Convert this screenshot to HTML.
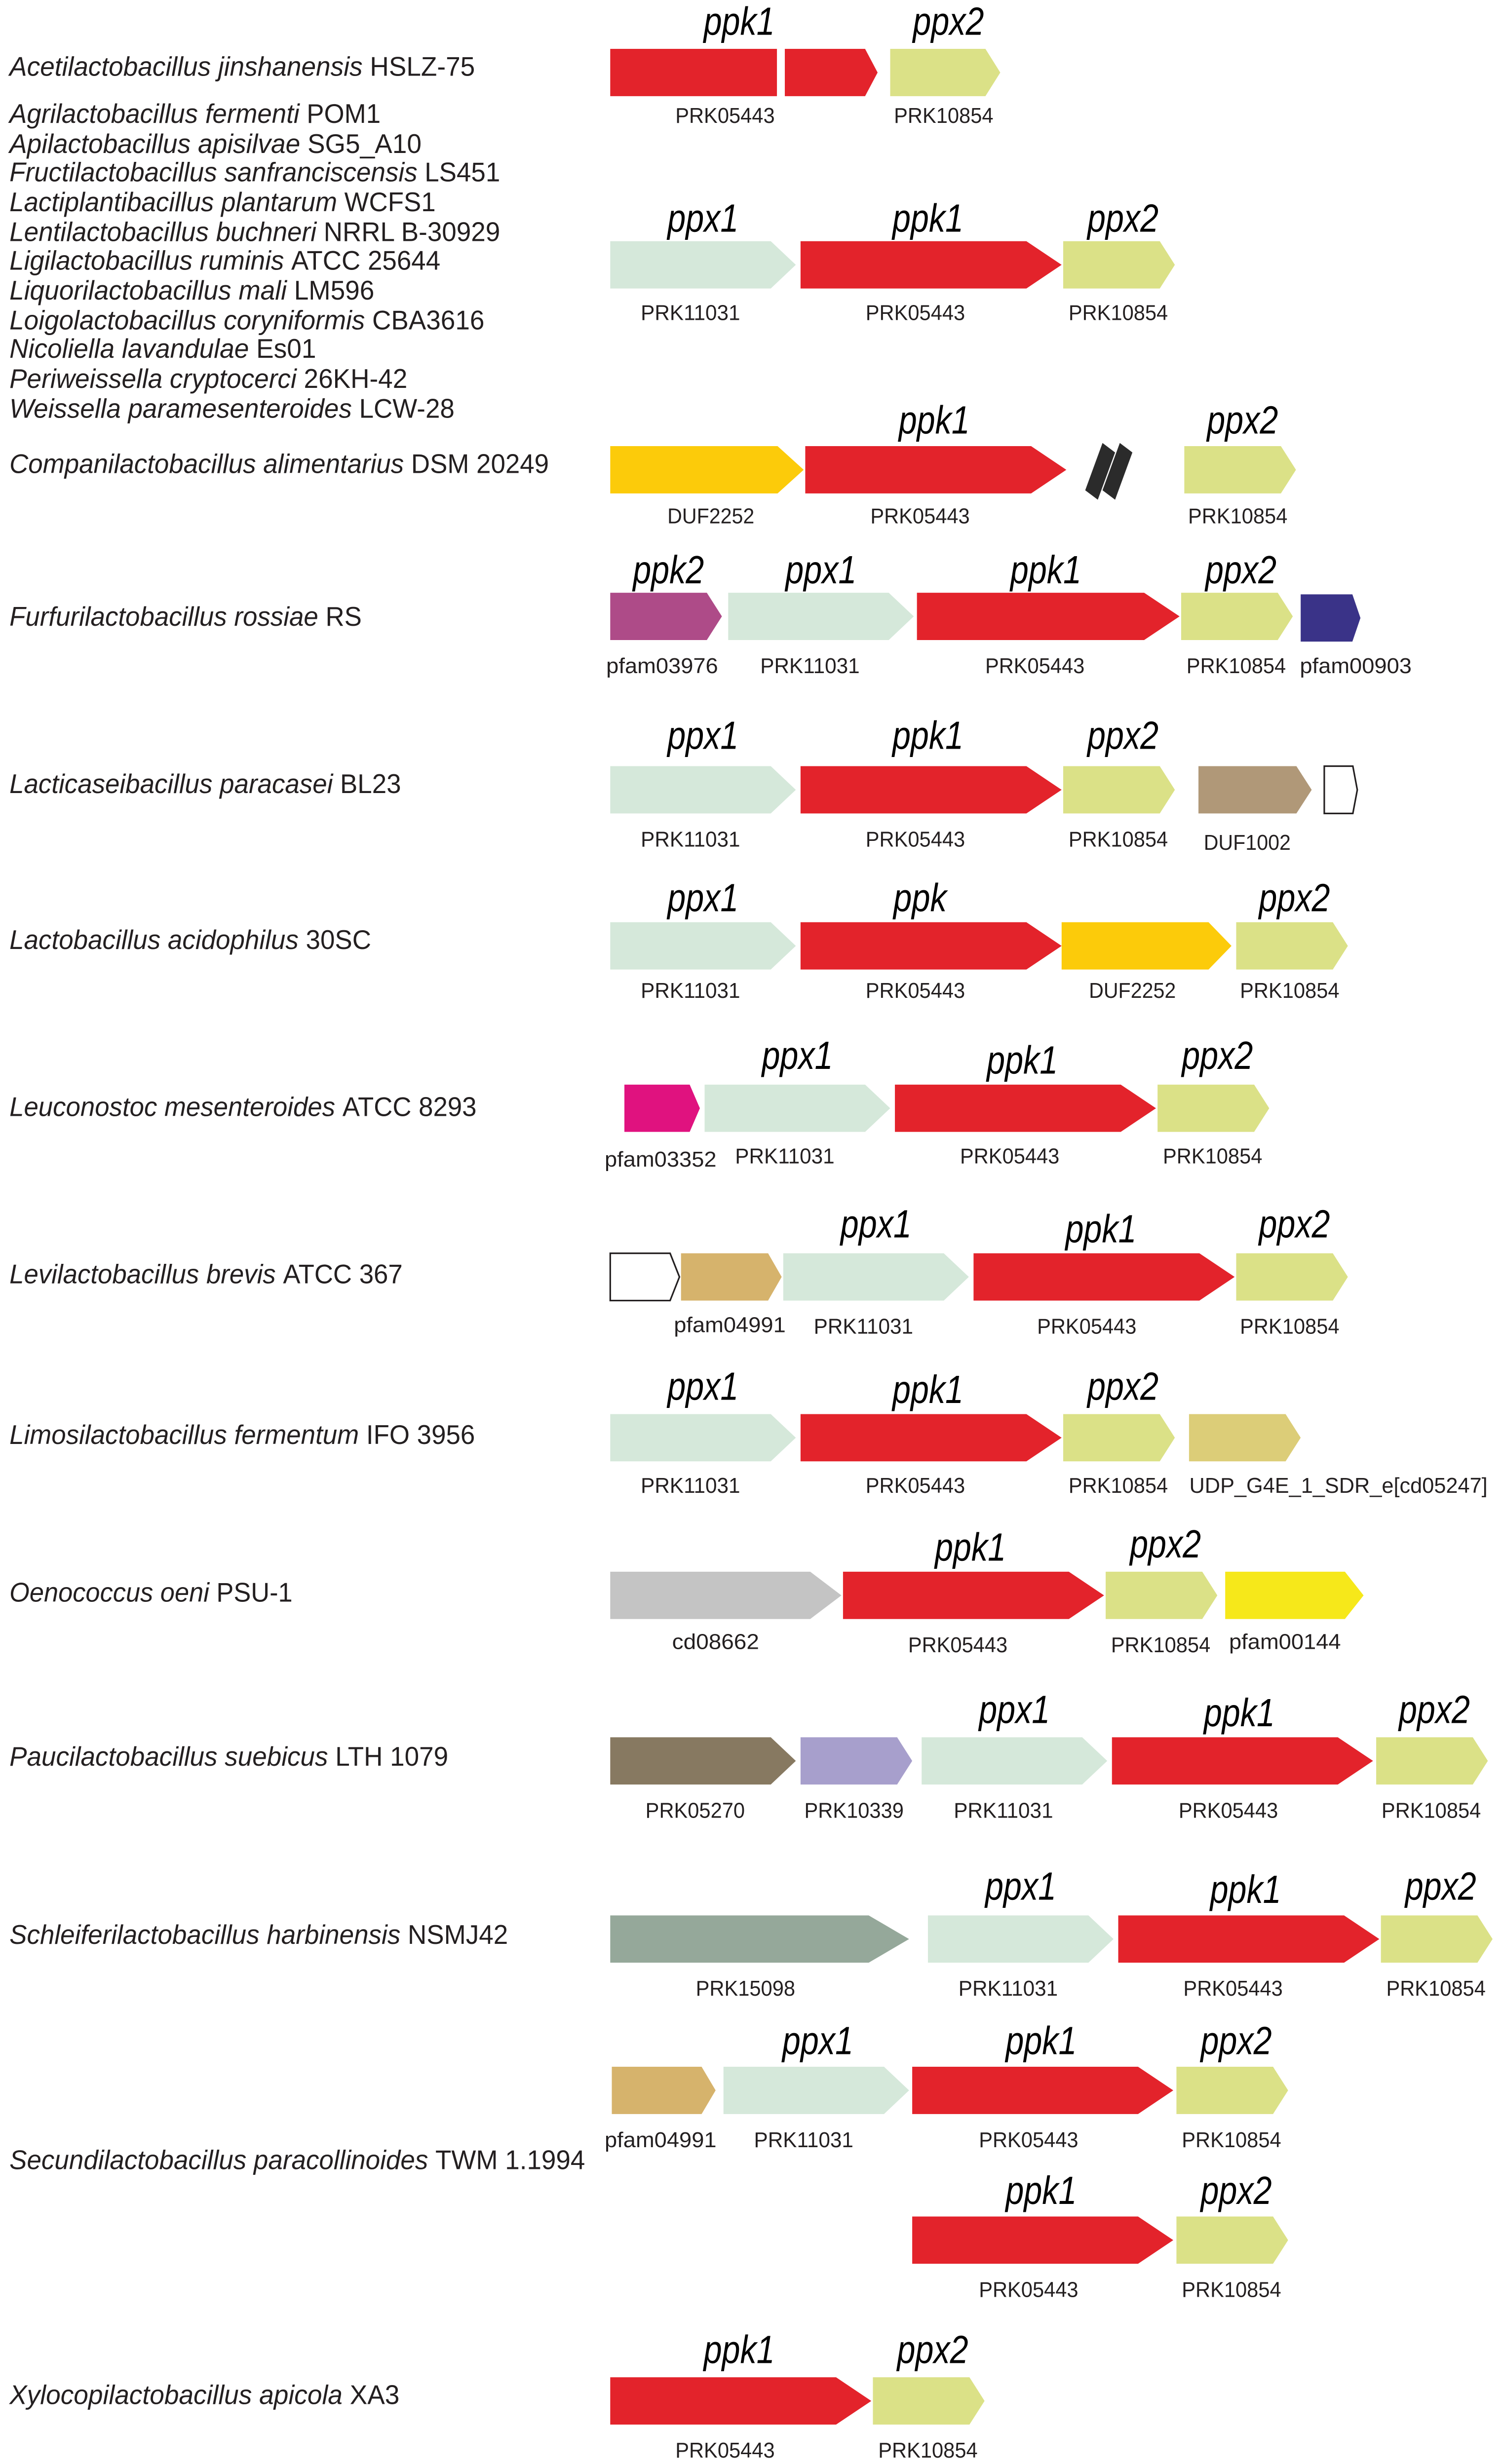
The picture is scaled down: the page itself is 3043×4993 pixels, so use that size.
<!DOCTYPE html>
<html><head><meta charset="utf-8"><style>
html,body{margin:0;padding:0;background:#fff}
svg{display:block}
</style></head><body>
<svg id="fig" xmlns="http://www.w3.org/2000/svg" width="3043" height="4993" viewBox="0 0 955 1563" preserveAspectRatio="none" font-family="Liberation Sans, Arial, sans-serif">
<rect width="955" height="1563" fill="#fff"/>
<g id="species"></g>
<g id="genes"></g>
</svg>
<script>
var NS='http://www.w3.org/2000/svg';
// species labels: [italic part, strain, baseline y, right end x]
var speciesNames=[
["Acetilactobacillus jinshanensis","HSLZ-75",48,302],
["Agrilactobacillus fermenti","POM1",78,242],
["Apilactobacillus apisilvae","SG5_A10",97,268],
["Fructilactobacillus sanfranciscensis","LS451",115,318],
["Lactiplantibacillus plantarum","WCFS1",134,277],
["Lentilactobacillus buchneri","NRRL B-30929",153,318],
["Ligilactobacillus ruminis","ATCC 25644",171,280],
["Liquorilactobacillus mali","LM596",190,238],
["Loigolactobacillus coryniformis","CBA3616",209,308],
["Nicoliella lavandulae","Es01",227,201],
["Periweissella cryptocerci","26KH-42",246,259],
["Weissella paramesenteroides","LCW-28",265,289],
["Companilactobacillus alimentarius","DSM 20249",300,349],
["Furfurilactobacillus rossiae","RS",397,230],
["Lacticaseibacillus paracasei","BL23",503,255],
["Lactobacillus acidophilus","30SC",602,236],
["Leuconostoc mesenteroides","ATCC 8293",708,303],
["Levilactobacillus brevis","ATCC 367",814,256],
["Limosilactobacillus fermentum","IFO 3956",916,302],
["Oenococcus oeni","PSU-1",1016,186],
["Paucilactobacillus suebicus","LTH 1079",1120,285],
["Schleiferilactobacillus harbinensis","NSMJ42",1233,323],
["Secundilactobacillus paracollinoides","TWM 1.1994",1376,372],
["Xylocopilactobacillus apicola","XA3",1525,254]
];
var C={red:'#e3232b',ppx1:'#d5e8da',ppx2:'#dbe187',duf:'#fccb0a',ppk2:'#ae4b88',blue:'#3a3388',duf1002:'#b09878',pink:'#e0127f',white:'#ffffff',tan:'#d6b36c',udp:'#dccd78',grey:'#c4c4c4',yel:'#f6e81a',brown:'#877961',lav:'#a79fcc',sage:'#95a89a'};
// gene arrows: [row top y, start, end, colour key, gene name, gene name x, gene name y, domain, domain x, domain y]
var genes=[
[31,388,494,'red','',0,0,'',0,0,'rect'],
[31,499,558,'red','ppk1',470,22,'PRK05443',461,78],
[31,566,636,'ppx2','ppx2',603,22,'PRK10854',600,78],
[153,388,506,'ppx1','ppx1',447,147,'PRK11031',439,203],
[153,509,675,'red','ppk1',590,147,'PRK05443',582,203],
[153,676,747,'ppx2','ppx2',714,147,'PRK10854',711,203],
[283,388,511,'duf','',0,0,'DUF2252',452,332],
[283,512,678,'red','ppk1',594,275,'PRK05443',585,332],
[283,753,824,'ppx2','ppx2',790,275,'PRK10854',787,332],
[376,388,459,'ppk2','ppk2',425,370,'pfam03976',421,427],
[376,463,581,'ppx1','ppx1',522,370,'PRK11031',515,427],
[376,583,750,'red','ppk1',665,370,'PRK05443',658,427],
[376,751,822,'ppx2','ppx2',789,370,'PRK10854',786,427],
[377,827,865,'blue','',0,0,'pfam00903',862,427],
[486,388,506,'ppx1','ppx1',447,475,'PRK11031',439,537],
[486,509,675,'red','ppk1',590,475,'PRK05443',582,537],
[486,676,747,'ppx2','ppx2',714,475,'PRK10854',711,537],
[486,762,834,'duf1002','',0,0,'DUF1002',793,539],
[486,842,863,'white','',0,0,'',0,0],
[585,388,506,'ppx1','ppx1',447,578,'PRK11031',439,633],
[585,509,675,'red','ppk',585,578,'PRK05443',582,633],
[585,675,783,'duf','',0,0,'DUF2252',720,633],
[585,786,857,'ppx2','ppx2',823,578,'PRK10854',820,633],
[688,397,445,'pink','',0,0,'pfam03352',420,740],
[688,448,566,'ppx1','ppx1',507,678,'PRK11031',499,738],
[688,569,735,'red','ppk1',650,681,'PRK05443',642,738],
[688,736,807,'ppx2','ppx2',774,678,'PRK10854',771,738],
[795,388,432,'white','',0,0,'',0,0],
[795,433,497,'tan','',0,0,'pfam04991',464,845],
[795,498,616,'ppx1','ppx1',557,785,'PRK11031',549,846],
[795,619,785,'red','ppk1',700,788,'PRK05443',691,846],
[795,786,857,'ppx2','ppx2',823,785,'PRK10854',820,846],
[897,388,506,'ppx1','ppx1',447,888,'PRK11031',439,947],
[897,509,675,'red','ppk1',590,890,'PRK05443',582,947],
[897,676,747,'ppx2','ppx2',714,888,'PRK10854',711,947],
[897,756,827,'udp','',0,0,'UDP_G4E_1_SDR_e[cd05247]',851,947],
[997,388,535,'grey','',0,0,'cd08662',455,1046],
[997,536,702,'red','ppk1',617,990,'PRK05443',609,1048],
[997,703,774,'ppx2','ppx2',741,988,'PRK10854',738,1048],
[997,779,867,'yel','',0,0,'pfam00144',817,1046],
[1102,388,506,'brown','',0,0,'PRK05270',442,1153],
[1102,509,580,'lav','',0,0,'PRK10339',543,1153],
[1102,586,704,'ppx1','ppx1',645,1093,'PRK11031',638,1153],
[1102,707,873,'red','ppk1',788,1095,'PRK05443',781,1153],
[1102,875,946,'ppx2','ppx2',912,1093,'PRK10854',910,1153],
[1215,388,578,'sage','',0,0,'PRK15098',474,1266],
[1215,590,708,'ppx1','ppx1',649,1205,'PRK11031',641,1266],
[1215,711,877,'red','ppk1',792,1207,'PRK05443',784,1266],
[1215,878,949,'ppx2','ppx2',916,1205,'PRK10854',913,1266],
[1311,389,455,'tan','',0,0,'pfam04991',420,1362],
[1311,460,578,'ppx1','ppx1',520,1303,'PRK11031',511,1362],
[1311,580,746,'red','ppk1',662,1303,'PRK05443',654,1362],
[1311,748,819,'ppx2','ppx2',786,1303,'PRK10854',783,1362],
[1406,580,746,'red','ppk1',662,1398,'PRK05443',654,1457],
[1406,748,819,'ppx2','ppx2',786,1398,'PRK10854',783,1457],
[1508,388,554,'red','ppk1',470,1499,'PRK05443',461,1559],
[1508,555,626,'ppx2','ppx2',593,1499,'PRK10854',590,1559]
];
var gSp=document.getElementById('species'), gG=document.getElementById('genes');
speciesNames.forEach(function(s,i){
  var t=document.createElementNS(NS,'text');
  
  
  t.setAttribute('x',6);t.setAttribute('y',s[2]);
  t.setAttribute('font-size',17);t.setAttribute('fill','#231f20');
  t.setAttribute('textLength',s[3]-6);t.setAttribute('lengthAdjust','spacingAndGlyphs');
  var a=document.createElementNS(NS,'tspan');a.setAttribute('font-style','italic');a.textContent=s[0]+' ';
  var b=document.createElementNS(NS,'tspan');b.textContent=s[1];
  t.appendChild(a);t.appendChild(b);gSp.appendChild(t);
});
genes.forEach(function(g){
  var y=g[0],x1=g[1],x2=g[2],h=30,len=x2-x1,tip=len*0.135,col=C[g[3]];
  var p=document.createElementNS(NS,'path');
  
  
  var d;
  if(g[10]==='rect'){d='M'+x1+','+y+'H'+x2+'V'+(y+h)+'H'+x1+'Z';}
  else {d='M'+x1+','+y+'H'+(x2-tip)+'L'+x2+','+(y+h/2)+'L'+(x2-tip)+','+(y+h)+'H'+x1+'Z';}
  p.setAttribute('d',d);p.setAttribute('fill',col);
  if(g[3]==='white'){p.setAttribute('stroke','#231f20');p.setAttribute('stroke-width','1');}
  gG.appendChild(p);
  if(g[4]){
    var t=document.createElementNS(NS,'text');
    
    
    t.setAttribute('x',g[5]);t.setAttribute('y',g[6]);t.setAttribute('text-anchor','middle');
    t.setAttribute('font-size',25);t.setAttribute('font-style','italic');t.setAttribute('fill','#000');
    t.setAttribute('textLength',g[4].length*11.3);t.setAttribute('lengthAdjust','spacingAndGlyphs');
    t.textContent=g[4];gG.appendChild(t);
  }
  if(g[7]){
    var u=document.createElementNS(NS,'text');
    
    
    u.setAttribute('x',g[8]);u.setAttribute('y',g[9]);u.setAttribute('text-anchor','middle');
    u.setAttribute('font-size',13.5);u.setAttribute('fill','#231f20');
    u.setAttribute('textLength',g[7].length*7.9);u.setAttribute('lengthAdjust','spacingAndGlyphs');
    u.textContent=g[7];gG.appendChild(u);
  }
});
// break marks
['701,281 709,287 698,317 690,311','712,281 720,287 709,317 701,311'].forEach(function(q){
  var b=document.createElementNS(NS,'polygon');
  
  
  b.setAttribute('points',q);
  b.setAttribute('fill','#2b2b2b');gG.appendChild(b);
});
</script>
</body></html>
